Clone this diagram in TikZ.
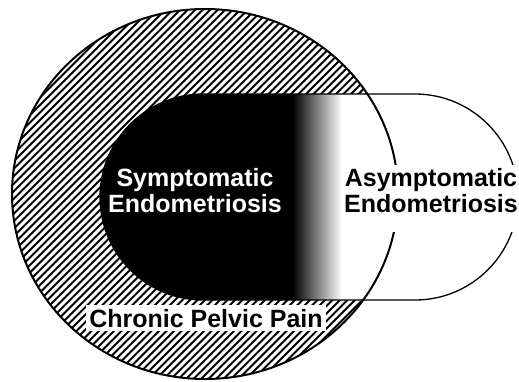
\documentclass[tikz,border=0pt]{standalone}
\usepackage{fontspec}
\setmainfont{Liberation Sans}
\begin{document}
\begin{tikzpicture}[x=1pt,y=-1pt,
  lbl/.style={font=\fontsize{25}{26}\selectfont\bfseries, align=center, inner sep=0pt},
  hatchline/.style={line width=1.9pt},
  outline/.style={draw=black, line width=1.3pt},
  rim/.style={draw=black, line width=2pt}]
\useasboundingbox (0,0) rectangle (519,381);
\coordinate (C) at (205,194);
% hatched circle (chronic pelvic pain)
\begin{scope}
  \clip (C) ellipse [x radius=193, y radius=185];
  \foreach \k in {-420,-412.5,...,560} \draw[hatchline] (\k,400) -- (\k+420,-20);
\end{scope}
% endometriosis stadium: black fading to white
\begin{scope}
  \clip[rounded corners=103pt] (100,94) rectangle (518,300);
  \fill[black] (95,90) rectangle (293,305);
  \shade[left color=black, right color=white] (292.5,90) rectangle (342,305);
  \fill[white] (341.5,90) rectangle (525,305);
\end{scope}
\draw[outline, rounded corners=103pt] (100,94) rectangle (518,300);
\draw[rim] (C) ellipse [x radius=193, y radius=185];
% labels
\node[lbl, text=white] (sym) at (195,191) {Symptomatic\\Endometriosis};
\fill[white] (343,165) rectangle (519,232);
\node[lbl] (asym) at (431,191) {Asymptomatic\\Endometriosis};
\node[lbl, fill=white, inner xsep=3pt, inner ysep=4pt, anchor=base] (cpp) at (206,327) {Chronic Pelvic Pain};
\end{tikzpicture}
\end{document}
